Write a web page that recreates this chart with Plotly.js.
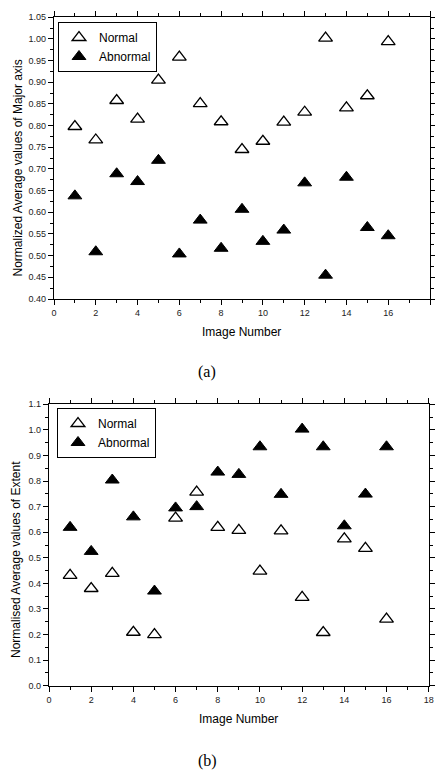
<!DOCTYPE html>
<html>
<head>
<meta charset="utf-8">
<script src="https://cdn.plot.ly/plotly-3.0.1.min.js"></script>
<style>html,body{margin:0;padding:0;background:#fff;}#chart{width:435px;height:771px;}</style>
</head>
<body>
<div id="chart"></div>
<script>
const imageNumber = [1, 2, 3, 4, 5, 6, 7, 8, 9, 10, 11, 12, 13, 14, 15, 16];
const normalMajor = [0.798, 0.767, 0.858, 0.815, 0.905, 0.958, 0.851, 0.809, 0.745, 0.764, 0.808, 0.831, 1.002, 0.841, 0.869, 0.994];
const abnormalMajor = [0.638, 0.509, 0.689, 0.671, 0.720, 0.504, 0.582, 0.517, 0.607, 0.533, 0.559, 0.668, 0.455, 0.681, 0.565, 0.546];
const normalExtent = [0.431, 0.380, 0.439, 0.209, 0.200, 0.655, 0.757, 0.619, 0.607, 0.448, 0.605, 0.345, 0.208, 0.574, 0.537, 0.260];
const abnormalExtent = [0.619, 0.525, 0.804, 0.660, 0.370, 0.695, 0.700, 0.835, 0.826, 0.934, 0.748, 1.003, 0.934, 0.625, 0.749, 0.934];
const seriesNames = ['Normal', 'Abnormal'];
const xTitle = 'Image Number';
const yTitleA = 'Normalized Average values of Major axis';
const yTitleB = 'Normalised Average values of Extent';

const W = 435, H = 771;
const px = v => v / W;
const py = v => 1 - v / H;

const openMarker = {symbol: 'triangle-up', size: 12, color: '#ffffff', line: {color: '#000000', width: 1.3}};
const fillMarker = {symbol: 'triangle-up', size: 12, color: '#000000', line: {color: '#000000', width: 1}};

const traces = [
  {x: imageNumber, y: normalMajor, name: seriesNames[0], mode: 'markers', type: 'scatter', marker: openMarker, xaxis: 'x', yaxis: 'y', legend: 'legend'},
  {x: imageNumber, y: abnormalMajor, name: seriesNames[1], mode: 'markers', type: 'scatter', marker: fillMarker, xaxis: 'x', yaxis: 'y', legend: 'legend'},
  {x: imageNumber, y: normalExtent, name: seriesNames[0], mode: 'markers', type: 'scatter', marker: openMarker, xaxis: 'x2', yaxis: 'y2', legend: 'legend2'},
  {x: imageNumber, y: abnormalExtent, name: seriesNames[1], mode: 'markers', type: 'scatter', marker: fillMarker, xaxis: 'x2', yaxis: 'y2', legend: 'legend2'}
];

const tickFont = {family: 'Liberation Sans, Arial, sans-serif', size: 9, color: '#222'};
function axisBase(extra) {
  return Object.assign({
    showline: true, linecolor: '#000', linewidth: 1.2, mirror: 'allticks',
    ticks: 'outside', ticklen: 5, tickwidth: 1, tickcolor: '#000',
    showgrid: false, zeroline: false, tickfont: tickFont, fixedrange: true
  }, extra);
}

const legendBase = {
  xanchor: 'left', yanchor: 'top', bgcolor: '#fff', bordercolor: '#000', borderwidth: 1,
  font: {family: 'Liberation Sans, Arial, sans-serif', size: 12, color: '#000'}
};

const titleFont = {family: 'Liberation Sans, Arial, sans-serif', size: 12, color: '#000'};

const layout = {
  width: W, height: H,
  margin: {l: 0, r: 0, t: 0, b: 0},
  paper_bgcolor: '#fff', plot_bgcolor: '#fff',
  xaxis: axisBase({domain: [px(54), px(430)], range: [0, 18], tick0: 0, dtick: 2, anchor: 'y',
    minor: {dtick: 1, ticks: 'outside', ticklen: 3, tickcolor: '#000'}}),
  yaxis: axisBase({domain: [py(299), py(17.3)], range: [0.40, 1.05], tick0: 0.40, dtick: 0.05, tickformat: '.2f', anchor: 'x',
    minor: {dtick: 0.025, ticks: 'outside', ticklen: 3, tickcolor: '#000'}}),
  xaxis2: axisBase({domain: [px(49), px(428.7)], range: [0, 18], tick0: 0, dtick: 2, anchor: 'y2',
    minor: {dtick: 1, ticks: 'outside', ticklen: 3, tickcolor: '#000'}}),
  yaxis2: axisBase({domain: [py(685.7), py(404.3)], range: [0, 1.1], tick0: 0, dtick: 0.1, tickformat: '.1f', anchor: 'x2',
    minor: {dtick: 0.05, ticks: 'outside', ticklen: 3, tickcolor: '#000'}}),
  legend: Object.assign({x: px(58), y: py(22)}, legendBase),
  legend2: Object.assign({x: px(57), y: py(408)}, legendBase),
  showlegend: true,
  annotations: [
    {text: xTitle, xref: 'paper', yref: 'paper', x: px(242), y: py(332), xanchor: 'center', yanchor: 'middle', showarrow: false, font: titleFont},
    {text: xTitle, xref: 'paper', yref: 'paper', x: px(238), y: py(719), xanchor: 'center', yanchor: 'middle', showarrow: false, font: titleFont},
    {text: yTitleA, xref: 'paper', yref: 'paper', x: px(17.5), y: py(168), xanchor: 'center', yanchor: 'middle', textangle: -90, showarrow: false, font: titleFont},
    {text: yTitleB, xref: 'paper', yref: 'paper', x: px(16), y: py(560), xanchor: 'center', yanchor: 'middle', textangle: -90, showarrow: false, font: titleFont},
    {text: '(a)', xref: 'paper', yref: 'paper', x: px(207), y: py(372), xanchor: 'center', yanchor: 'middle', showarrow: false,
      font: {family: 'Liberation Serif, Times New Roman, serif', size: 16, color: '#000'}},
    {text: '(b)', xref: 'paper', yref: 'paper', x: px(207), y: py(761), xanchor: 'center', yanchor: 'middle', showarrow: false,
      font: {family: 'Liberation Serif, Times New Roman, serif', size: 16, color: '#000'}}
  ]
};

Plotly.newPlot('chart', traces, layout, {displayModeBar: false, staticPlot: true});
</script>
</body>
</html>
